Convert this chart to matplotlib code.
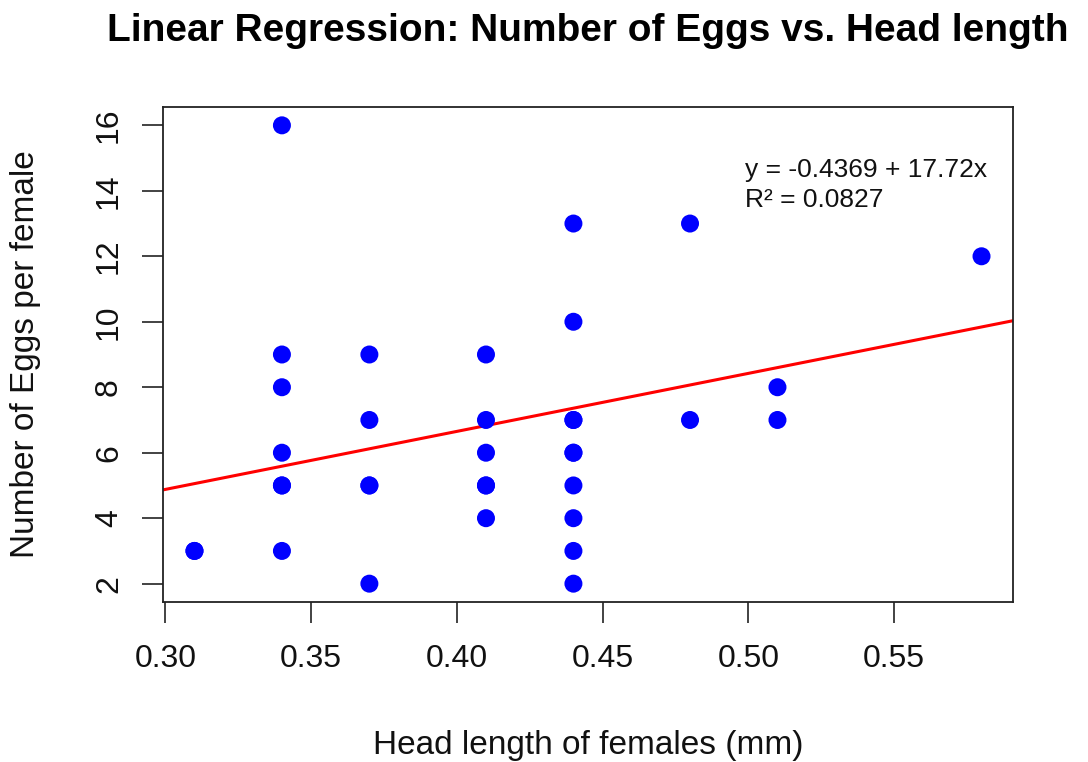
import numpy as np
import matplotlib.pyplot as plt

plt.rcParams['font.family'] = ['Liberation Sans', 'DejaVu Sans']

# Head length of females (mm) and number of eggs per female
head_length = [0.31, 0.31,
               0.34, 0.34, 0.34, 0.34, 0.34, 0.34, 0.34,
               0.37, 0.37, 0.37, 0.37, 0.37,
               0.41, 0.41, 0.41, 0.41, 0.41, 0.41,
               0.44, 0.44, 0.44, 0.44, 0.44, 0.44, 0.44, 0.44, 0.44, 0.44,
               0.48, 0.48,
               0.51, 0.51,
               0.58]
eggs = [3, 3,
        16, 9, 8, 6, 5, 5, 3,
        9, 7, 5, 5, 2,
        9, 7, 6, 5, 5, 4,
        13, 10, 7, 7, 6, 6, 5, 4, 3, 2,
        13, 7,
        8, 7,
        12]

# fitted line as reported on the chart
intercept = -0.4369
slope = 17.72
r_squared = 0.0827

x_ticks = [0.30, 0.35, 0.40, 0.45, 0.50, 0.55]
y_ticks = [2, 4, 6, 8, 10, 12, 14, 16]

W, H = 1088, 762
fig = plt.figure(figsize=(W / 100, H / 100), dpi=100)
# plot box in pixels: left 163, right 1013, top 107, bottom 602
ax = fig.add_axes([163 / W, 1 - 602 / H, 850 / W, 495 / H])

ax.scatter(head_length, eggs, s=168, color='blue', edgecolors='none', zorder=3)

# R-style 4% padding around the data range
xmin, xmax = min(head_length), max(head_length)
ymin, ymax = min(eggs), max(eggs)
xpad = (xmax - xmin) * 0.04
ypad = (ymax - ymin) * 0.04
xlim = (xmin - xpad, xmax + xpad)
ax.set_xlim(xlim)
ax.set_ylim(ymin - ypad, ymax + ypad)

xs = np.array(xlim)
ax.plot(xs, intercept + slope * xs, color='red', linewidth=2.2, zorder=2)
ax.set_xlim(xlim)

ax.set_xticks(x_ticks)
ax.set_xticklabels([f"{v:.2f}" for v in x_ticks])
ax.set_yticks(y_ticks)
ax.set_yticklabels([str(v) for v in y_ticks], rotation=90, va='center')

ax.tick_params(axis='both', direction='out', length=15, width=1.2,
               labelsize=23, color='#222222', labelcolor='#111111')
ax.tick_params(axis='x', pad=15)
ax.tick_params(axis='y', pad=13)
for sp in ax.spines.values():
    sp.set_linewidth(1.3)
    sp.set_color('#222222')

fig.text(588 / W, 1 - 754 / H, "Head length of females (mm)", fontsize=24,
         ha='center', va='baseline', color='#111111')
fig.text(26 / W, 1 - 354 / H, "Number of Eggs per female", fontsize=24,
         rotation=90, ha='center', va='center', color='#111111')
fig.text(588 / W, 1 - 41 / H, "Linear Regression: Number of Eggs vs. Head length",
         fontsize=28, fontweight='bold', ha='center', va='baseline')

ax.text(0.6847, 0.8586, f"y = {intercept} + {slope}x",
        transform=ax.transAxes, fontsize=19, va='baseline', ha='left',
        color='#111111')
ax.text(0.6847, 0.798, f"R\u00b2 = {r_squared}",
        transform=ax.transAxes, fontsize=19, va='baseline', ha='left',
        color='#111111')

fig.savefig("out.png", dpi=100)
